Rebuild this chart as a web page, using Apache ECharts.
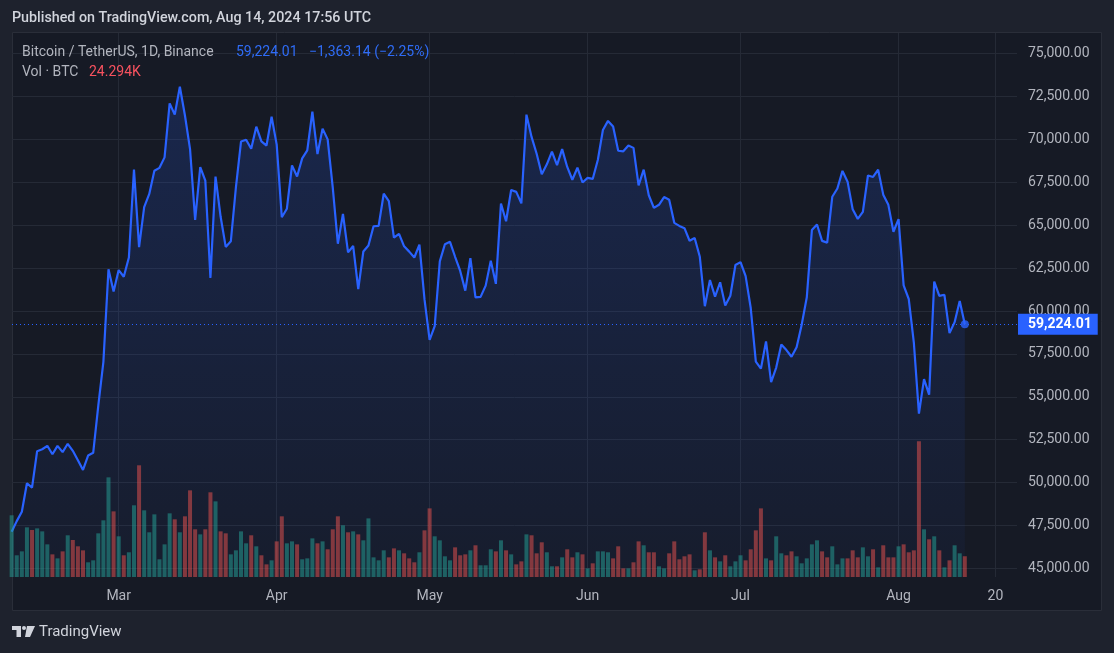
<!DOCTYPE html>
<html><head><meta charset="utf-8">
<script src="https://cdn.jsdelivr.net/npm/echarts@6/dist/echarts.min.js"></script>
<style>html,body{margin:0;padding:0;background:#1e222d;overflow:hidden}#c{width:1114px;height:653px}</style>
</head><body><div id="c"></div><script>
// ---- data (daily closes, BTC/USDT, Binance) ----
const startDate = '2024-02-09';
const priceFeb = [47132, 47751, 48294, 49959, 49700, 51826, 51939, 52142, 51651, 52138, 51775, 52259, 51850, 51304, 50733, 51572, 51732, 54477, 57038, 62432, 61131];
const priceMar = [62387, 61999, 63114, 68246, 63725, 66059, 66826, 68178, 68346, 68956, 72105, 71446, 73073, 71397, 69433, 65315, 68391, 67595, 61930, 67835, 65492, 63738, 64063, 67211, 69880, 69988, 69455, 70745, 69893, 69645, 71333];
const priceApr = [69702, 65463, 65963, 68488, 67837, 68897, 69360, 71620, 69146, 70631, 70007, 67195, 63922, 65661, 63420, 63793, 61277, 63470, 63818, 64941, 64960, 66838, 66408, 64276, 64499, 63771, 63461, 63119, 63867, 60672];
const priceMay = [58322, 59124, 62890, 63891, 64032, 63162, 62335, 61188, 63075, 60793, 60826, 61481, 62937, 61585, 66268, 65232, 67052, 66944, 66275, 71446, 70148, 69167, 67969, 68550, 69291, 68507, 69436, 68398, 67652, 68353, 67491];
const priceJun = [67760, 67700, 68805, 70549, 71083, 70760, 69344, 69311, 69649, 69510, 67322, 68242, 66750, 66011, 66191, 66640, 66491, 65140, 64960, 64829, 64096, 64252, 63180, 60277, 61805, 60840, 61676, 60320, 60888, 62679];
const priceJul = [62851, 62029, 60173, 57049, 56638, 58230, 55850, 56705, 58044, 57721, 57335, 57889, 59204, 60798, 64725, 65044, 64088, 63986, 66661, 67140, 68166, 67540, 65930, 65370, 65783, 67901, 67814, 68239, 66784, 66188, 64620];
const priceAug = [65354, 61499, 60700, 58162, 54019, 56030, 55120, 61710, 60881, 60945, 58713, 59350, 60587.15, 59224.01];

// volume in thousands of BTC
const volFeb = [72.2, 25.4, 30.0, 58.1, 55.0, 56.9, 53.4, 38.2, 26.5, 21.8, 30.0, 48.8, 43.3, 35.9, 31.2, 17.2, 19.5, 51.1, 66.3, 116.6, 76.8];
const volMar = [47.6, 25.4, 28.9, 83.9, 130.7, 78.0, 52.3, 73.3, 20.7, 38.2, 74.5, 67.5, 52.3, 71.0, 101.4, 55.8, 49.9, 55.8, 99.1, 88.5, 53.4, 51.1, 26.5, 31.2, 53.4, 39.4, 48.8, 35.9, 25.4, 14.8, 19.5];
const volApr = [41.7, 71.0, 39.4, 41.7, 38.2, 20.7, 21.8, 45.2, 39.4, 41.7, 32.4, 55.8, 71.0, 60.5, 52.3, 53.4, 49.9, 42.9, 68.6, 23.0, 19.5, 31.2, 23.0, 33.5, 31.2, 27.7, 21.8, 17.2, 28.9, 54.6];
const volMay = [80.3, 47.6, 42.9, 24.2, 19.5, 34.7, 25.4, 26.5, 31.2, 37.1, 13.7, 13.7, 32.4, 30.0, 42.9, 31.2, 26.5, 14.8, 18.3, 49.9, 48.8, 27.7, 40.6, 28.9, 12.5, 12.5, 23.0, 32.4, 23.0, 28.9, 26.5];
const volJun = [10.1, 16.0, 30.0, 30.0, 28.9, 21.8, 35.9, 10.1, 10.1, 17.2, 41.7, 37.1, 28.9, 28.9, 12.5, 10.1, 27.7, 41.7, 20.7, 24.2, 26.5, 7.8, 9.0, 52.3, 31.2, 23.0, 18.3, 25.4, 12.5, 18.3];
const volJul = [25.4, 19.5, 32.4, 54.6, 80.3, 21.8, 19.5, 47.6, 27.7, 25.4, 30.0, 24.2, 16.0, 21.8, 38.2, 42.9, 30.0, 23.0, 35.9, 14.8, 21.8, 21.8, 31.2, 23.0, 34.7, 24.2, 32.4, 11.3, 37.1, 23.0, 23.0];
const volAug = [35.9, 38.2, 28.9, 31.2, 158.7, 55.8, 44.1, 47.6, 31.2, 11.3, 19.5, 37.1, 27.7, 24.294];

const xTickDates = ['2024-03-01', '2024-04-01', '2024-05-01', '2024-06-01', '2024-07-01', '2024-08-01', '2024-08-20'];
const xTickLabels = ['Mar', 'Apr', 'May', 'Jun', 'Jul', 'Aug', '20'];
const yTickValues = [45000, 47500, 50000, 52500, 55000, 57500, 60000, 62500, 65000, 67500, 70000, 72500, 75000];

// ---- build ----
const DAY = 86400000;
const toMs = s => Date.parse(s + 'T00:00:00Z');
const t0 = toMs(startDate);
const prices = [].concat(priceFeb, priceMar, priceApr, priceMay, priceJun, priceJul, priceAug);
const volumes = [].concat(volFeb, volMar, volApr, volMay, volJun, volJul, volAug);
const times = prices.map((_, i) => t0 + i * DAY);
const lineData = prices.map((p, i) => [times[i], p]);
const UP = 'rgba(38,166,154,0.5)', DOWN = 'rgba(239,83,80,0.5)';
const volData = volumes.map((v, i) => ({
  value: [times[i], v],
  itemStyle: { color: (i === 0 || prices[i] >= prices[i - 1]) ? UP : DOWN }
}));
const xTicks = xTickDates.map(toMs);
const last = prices.length - 1;
const lastPrice = prices[last], prevPrice = prices[last - 1];
const lastVol = volumes[last];
const fmt2 = v => v.toLocaleString('en-US', { minimumFractionDigits: 2, maximumFractionDigits: 2 });
const chg = lastPrice - prevPrice, pct = chg / prevPrice * 100;
const minus = '\u2212';
const chgText = (chg < 0 ? minus : '+') + fmt2(Math.abs(chg)) + ' (' + (chg < 0 ? minus : '+') + fmt2(Math.abs(pct)) + '%)';
const volText = lastVol.toFixed(3) + 'K';

const FONT = 'Roboto, "Noto Sans", sans-serif';
const chart = echarts.init(document.getElementById('c'), null, { renderer: 'canvas' });
chart.setOption({
  backgroundColor: '#1e222d',
  animation: false,
  textStyle: { fontFamily: FONT },
  grid: { left: 12, right: 97, top: 33, bottom: 76, containLabel: false },
  xAxis: {
    type: 'value',
    min: Date.parse('2024-02-09T01:40:00Z'),
    max: Date.parse('2024-08-24T05:45:00Z'),
    axisLine: { show: false },
    axisTick: { show: false, customValues: xTicks },
    axisLabel: {
      customValues: xTicks, color: '#b2b5be', fontSize: 14, margin: 12, fontFamily: FONT,
      formatter: v => { const k = xTicks.findIndex(t => Math.abs(t - v) < 60000); return k >= 0 ? xTickLabels[k] : ''; }
    },
    splitLine: { show: true, lineStyle: { color: '#252a36', width: 1 } }
  },
  yAxis: [{
    type: 'value', position: 'right', min: 44493, max: 76207,
    axisLine: { show: false },
    axisTick: { show: false, customValues: yTickValues },
    axisLabel: { customValues: yTickValues, color: '#b2b5be', fontSize: 14, margin: 11, fontFamily: FONT,
      padding: [4, 0, 0, 0], formatter: v => fmt2(v) },
    splitLine: { show: true, lineStyle: { color: '#252a36', width: 1 } }
  }, {
    type: 'value', min: 0, max: 636.5, show: false, splitLine: { show: false }
  }],
  series: [{
    type: 'line', data: lineData, yAxisIndex: 0, showSymbol: false, clip: false, z: 3,
    lineStyle: { color: '#2962ff', width: 2.2 },
    areaStyle: {
      origin: 'start',
      color: new echarts.graphic.LinearGradient(0, 0, 0, 1, [
        { offset: 0, color: 'rgba(41,98,255,0.26)' },
        { offset: 1, color: 'rgba(41,98,255,0.05)' }
      ])
    },
    markLine: {
      silent: true, symbol: 'none', animation: false,
      lineStyle: { color: '#2962ff', type: [1, 3], width: 1 },
      label: {
        show: true, position: 'end', distance: 1, formatter: fmt2(lastPrice),
        backgroundColor: '#2962ff', color: '#ffffff', fontWeight: 'bold', fontSize: 14, fontFamily: FONT,
        padding: [4, 6, 2, 10], lineHeight: 15
      },
      data: [{ yAxis: lastPrice }]
    }
  }, {
    type: 'bar', data: volData, yAxisIndex: 1, barWidth: 4, clip: false, z: 4,
    markLine: {
      silent: true, symbol: 'none', animation: false,
      lineStyle: { opacity: 0 },
      label: {
        show: true, position: 'end', distance: 1, formatter: volText,
        backgroundColor: '#ef5350', color: '#ffffff', fontWeight: 'bold', fontSize: 14, fontFamily: FONT,
        padding: [4, 10, 2, 10], lineHeight: 15
      },
      data: [{ yAxis: lastVol }]
    }
  }, {
    type: 'scatter', data: [lineData[last]], yAxisIndex: 0, symbolSize: 8, z: 5,
    itemStyle: { color: '#2962ff' }
  }],
  graphic: [
    { type: 'rect', z: -100, silent: true, shape: { x: 12.5, y: 32.5, width: 1089, height: 578 },
      style: { fill: '#161a25', stroke: '#2a2e39', lineWidth: 1 } },
    { type: 'text', z: 100, x: 12, y: 18, silent: true,
      style: { text: 'Published on TradingView.com, Aug 14, 2024 17:56 UTC', fill: '#d1d4dc', font: '500 14.3px ' + FONT, textVerticalAlign: 'middle' } },
    { type: 'text', z: 100, x: 22, y: 52, silent: true,
      style: { text: 'Bitcoin / TetherUS, 1D, Binance', fill: '#b2b5be', font: '14px ' + FONT, textVerticalAlign: 'middle' } },
    { type: 'text', z: 100, x: 236, y: 52, silent: true,
      style: { text: fmt2(lastPrice), fill: '#2f6cf6', font: '14px ' + FONT, textVerticalAlign: 'middle' } },
    { type: 'text', z: 100, x: 309, y: 52, silent: true,
      style: { text: chgText, fill: '#2f6cf6', font: '14px ' + FONT, textVerticalAlign: 'middle' } },
    { type: 'text', z: 100, x: 22, y: 72, silent: true,
      style: { text: 'Vol \u00b7 BTC', fill: '#b2b5be', font: '14px ' + FONT, textVerticalAlign: 'middle' } },
    { type: 'text', z: 100, x: 89, y: 72, silent: true,
      style: { text: volText, fill: '#f7525f', font: '14px ' + FONT, textVerticalAlign: 'middle' } },
    // TradingView logo
    { type: 'rect', z: 100, silent: true, shape: { x: 12, y: 626, width: 9, height: 4 }, style: { fill: '#d1d4dc' } },
    { type: 'rect', z: 100, silent: true, shape: { x: 16.5, y: 626, width: 4.5, height: 11 }, style: { fill: '#d1d4dc' } },
    { type: 'circle', z: 100, silent: true, shape: { cx: 24, cy: 628, r: 2 }, style: { fill: '#d1d4dc' } },
    { type: 'polygon', z: 100, silent: true, shape: { points: [[27, 626], [35, 626], [30, 637], [25, 637]] }, style: { fill: '#d1d4dc' } },
    { type: 'text', z: 100, x: 39, y: 632, silent: true,
      style: { text: 'TradingView', fill: '#d1d4dc', font: '15px ' + FONT, textVerticalAlign: 'middle' } }
  ]
});
</script></body></html>
